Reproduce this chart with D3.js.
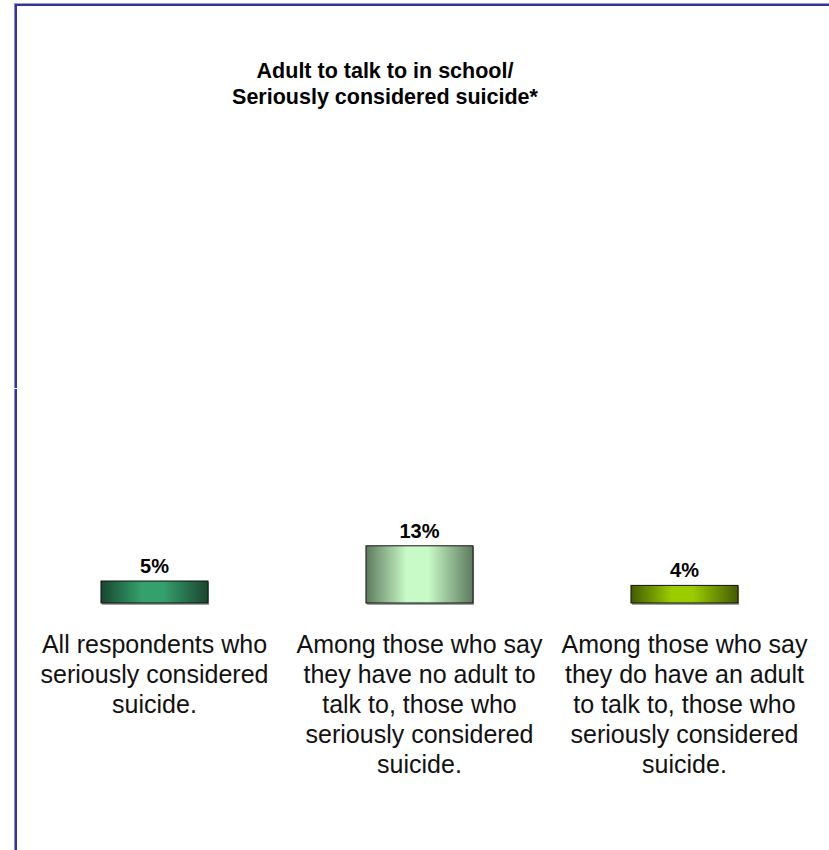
<!DOCTYPE html>
<meta charset="utf-8">
<head>
  <title>Adult to talk to in school</title>
</head>
<style>
body {
  margin: 0;
  background: #fff;
  font-family: "Liberation Sans", Arial, Helvetica, sans-serif;
}
</style>
<body>
  <div id="content"></div>
  <script src="https://cdnjs.cloudflare.com/ajax/libs/d3/7.8.5/d3.min.js"></script>
  <script>

// data
var categories = ['all', 'noAdult', 'hasAdult'];
var values = [5, 13, 4];
var valueLabels = ['5%', '13%', '4%'];
var categoryLines = [
  ['All respondents who', 'seriously considered', 'suicide.'],
  ['Among those who say', 'they have no adult to', 'talk to, those who', 'seriously considered', 'suicide.'],
  ['Among those who say', 'they do have an adult', 'to talk to, those who', 'seriously considered', 'suicide.']
];
var titleLines = ['Adult to talk to in school/', 'Seriously considered suicide*'];

// edge / centre colours of each bar's cylinder shading
var barEdge = ['#17462f', '#5d7a5d', '#435c00'];
var barMid = ['#36a06c', '#c8fac8', '#9acc00'];

var width = 829, height = 850;

var svg = d3.select('#content').append('svg')
  .attr('width', width)
  .attr('height', height);

// frame: top and left lines only
var frame = svg.append('g');
frame.append('rect').attr('x', 14).attr('y', 3).attr('width', width - 14).attr('height', 1).attr('fill', '#9a9ad0');
frame.append('rect').attr('x', 14).attr('y', 4).attr('width', width - 14).attr('height', 2).attr('fill', '#333399');
frame.append('rect').attr('x', 14).attr('y', 4).attr('width', 1).attr('height', 384).attr('fill', '#8a8ac8');
frame.append('rect').attr('x', 15).attr('y', 4).attr('width', 2).attr('height', 384).attr('fill', '#333399');
frame.append('rect').attr('x', 14).attr('y', 389).attr('width', 1).attr('height', height - 389).attr('fill', '#8a8ac8');
frame.append('rect').attr('x', 15).attr('y', 389).attr('width', 2).attr('height', height - 389).attr('fill', '#333399');

// title
var titleX = 385;
svg.append('text')
  .attr('x', titleX)
  .attr('y', 78)
  .attr('text-anchor', 'middle')
  .style('font-weight', 'bold')
  .style('font-size', '21.5px')
  .selectAll('tspan')
  .data(titleLines)
  .join('tspan')
  .attr('x', titleX)
  .attr('dy', function(d, i) { return i ? 26 : 0; })
  .text(function(d) { return d; });

var x = d3.scaleBand()
  .domain(categories)
  .range([22, 817])
  .paddingInner(0.596)
  .paddingOuter(0.298);

var y = d3.scaleLinear()
  .domain([0, 100])
  .range([603, 163]);

// gradients
var defs = svg.append('defs');
categories.forEach(function(c, i) {
  var g = defs.append('linearGradient')
    .attr('id', 'grad-' + c)
    .attr('x1', 0).attr('x2', 1).attr('y1', 0).attr('y2', 0);
  g.append('stop').attr('offset', '0%').attr('stop-color', barEdge[i]);
  g.append('stop').attr('offset', '38%').attr('stop-color', barMid[i]);
  g.append('stop').attr('offset', '58%').attr('stop-color', barMid[i]);
  g.append('stop').attr('offset', '100%').attr('stop-color', barEdge[i]);
});

var bars = svg.append('g');

// faint shadow under each bar
bars.selectAll('rect.shadow')
  .data(values)
  .join('rect')
  .attr('class', 'shadow')
  .attr('x', function(d, i) { return x(categories[i]) + 1; })
  .attr('y', function(d) { return y(d) + 1; })
  .attr('width', x.bandwidth())
  .attr('height', function(d) { return y(0) - y(d) + 1; })
  .attr('fill', '#a0a0a0');

bars.selectAll('rect.bar')
  .data(values)
  .join('rect')
  .attr('class', 'bar')
  .attr('x', function(d, i) { return x(categories[i]); })
  .attr('y', function(d) { return y(d); })
  .attr('width', x.bandwidth())
  .attr('height', function(d) { return y(0) - y(d); })
  .attr('fill', function(d, i) { return 'url(#grad-' + categories[i] + ')'; })
  .attr('stroke', '#111')
  .attr('stroke-width', 1);

// value labels
svg.append('g').selectAll('text')
  .data(values)
  .join('text')
  .attr('x', function(d, i) { return x(categories[i]) + x.bandwidth() / 2; })
  .attr('y', function(d) { return y(d) - 8; })
  .attr('text-anchor', 'middle')
  .style('font-weight', 'bold')
  .style('font-size', '20px')
  .text(function(d, i) { return valueLabels[i]; });

// category labels under the bars
svg.append('g').selectAll('text')
  .data(categoryLines)
  .join('text')
  .attr('text-anchor', 'middle')
  .attr('y', 653)
  .style('font-size', '25px')
  .attr('fill', '#111')
  .each(function(lines, i) {
    var cx = x(categories[i]) + x.bandwidth() / 2;
    d3.select(this).selectAll('tspan')
      .data(lines)
      .join('tspan')
      .attr('x', cx)
      .attr('dy', function(d, j) { return j ? 30 : 0; })
      .text(function(d) { return d; });
  });

</script>
</body>
</html>
